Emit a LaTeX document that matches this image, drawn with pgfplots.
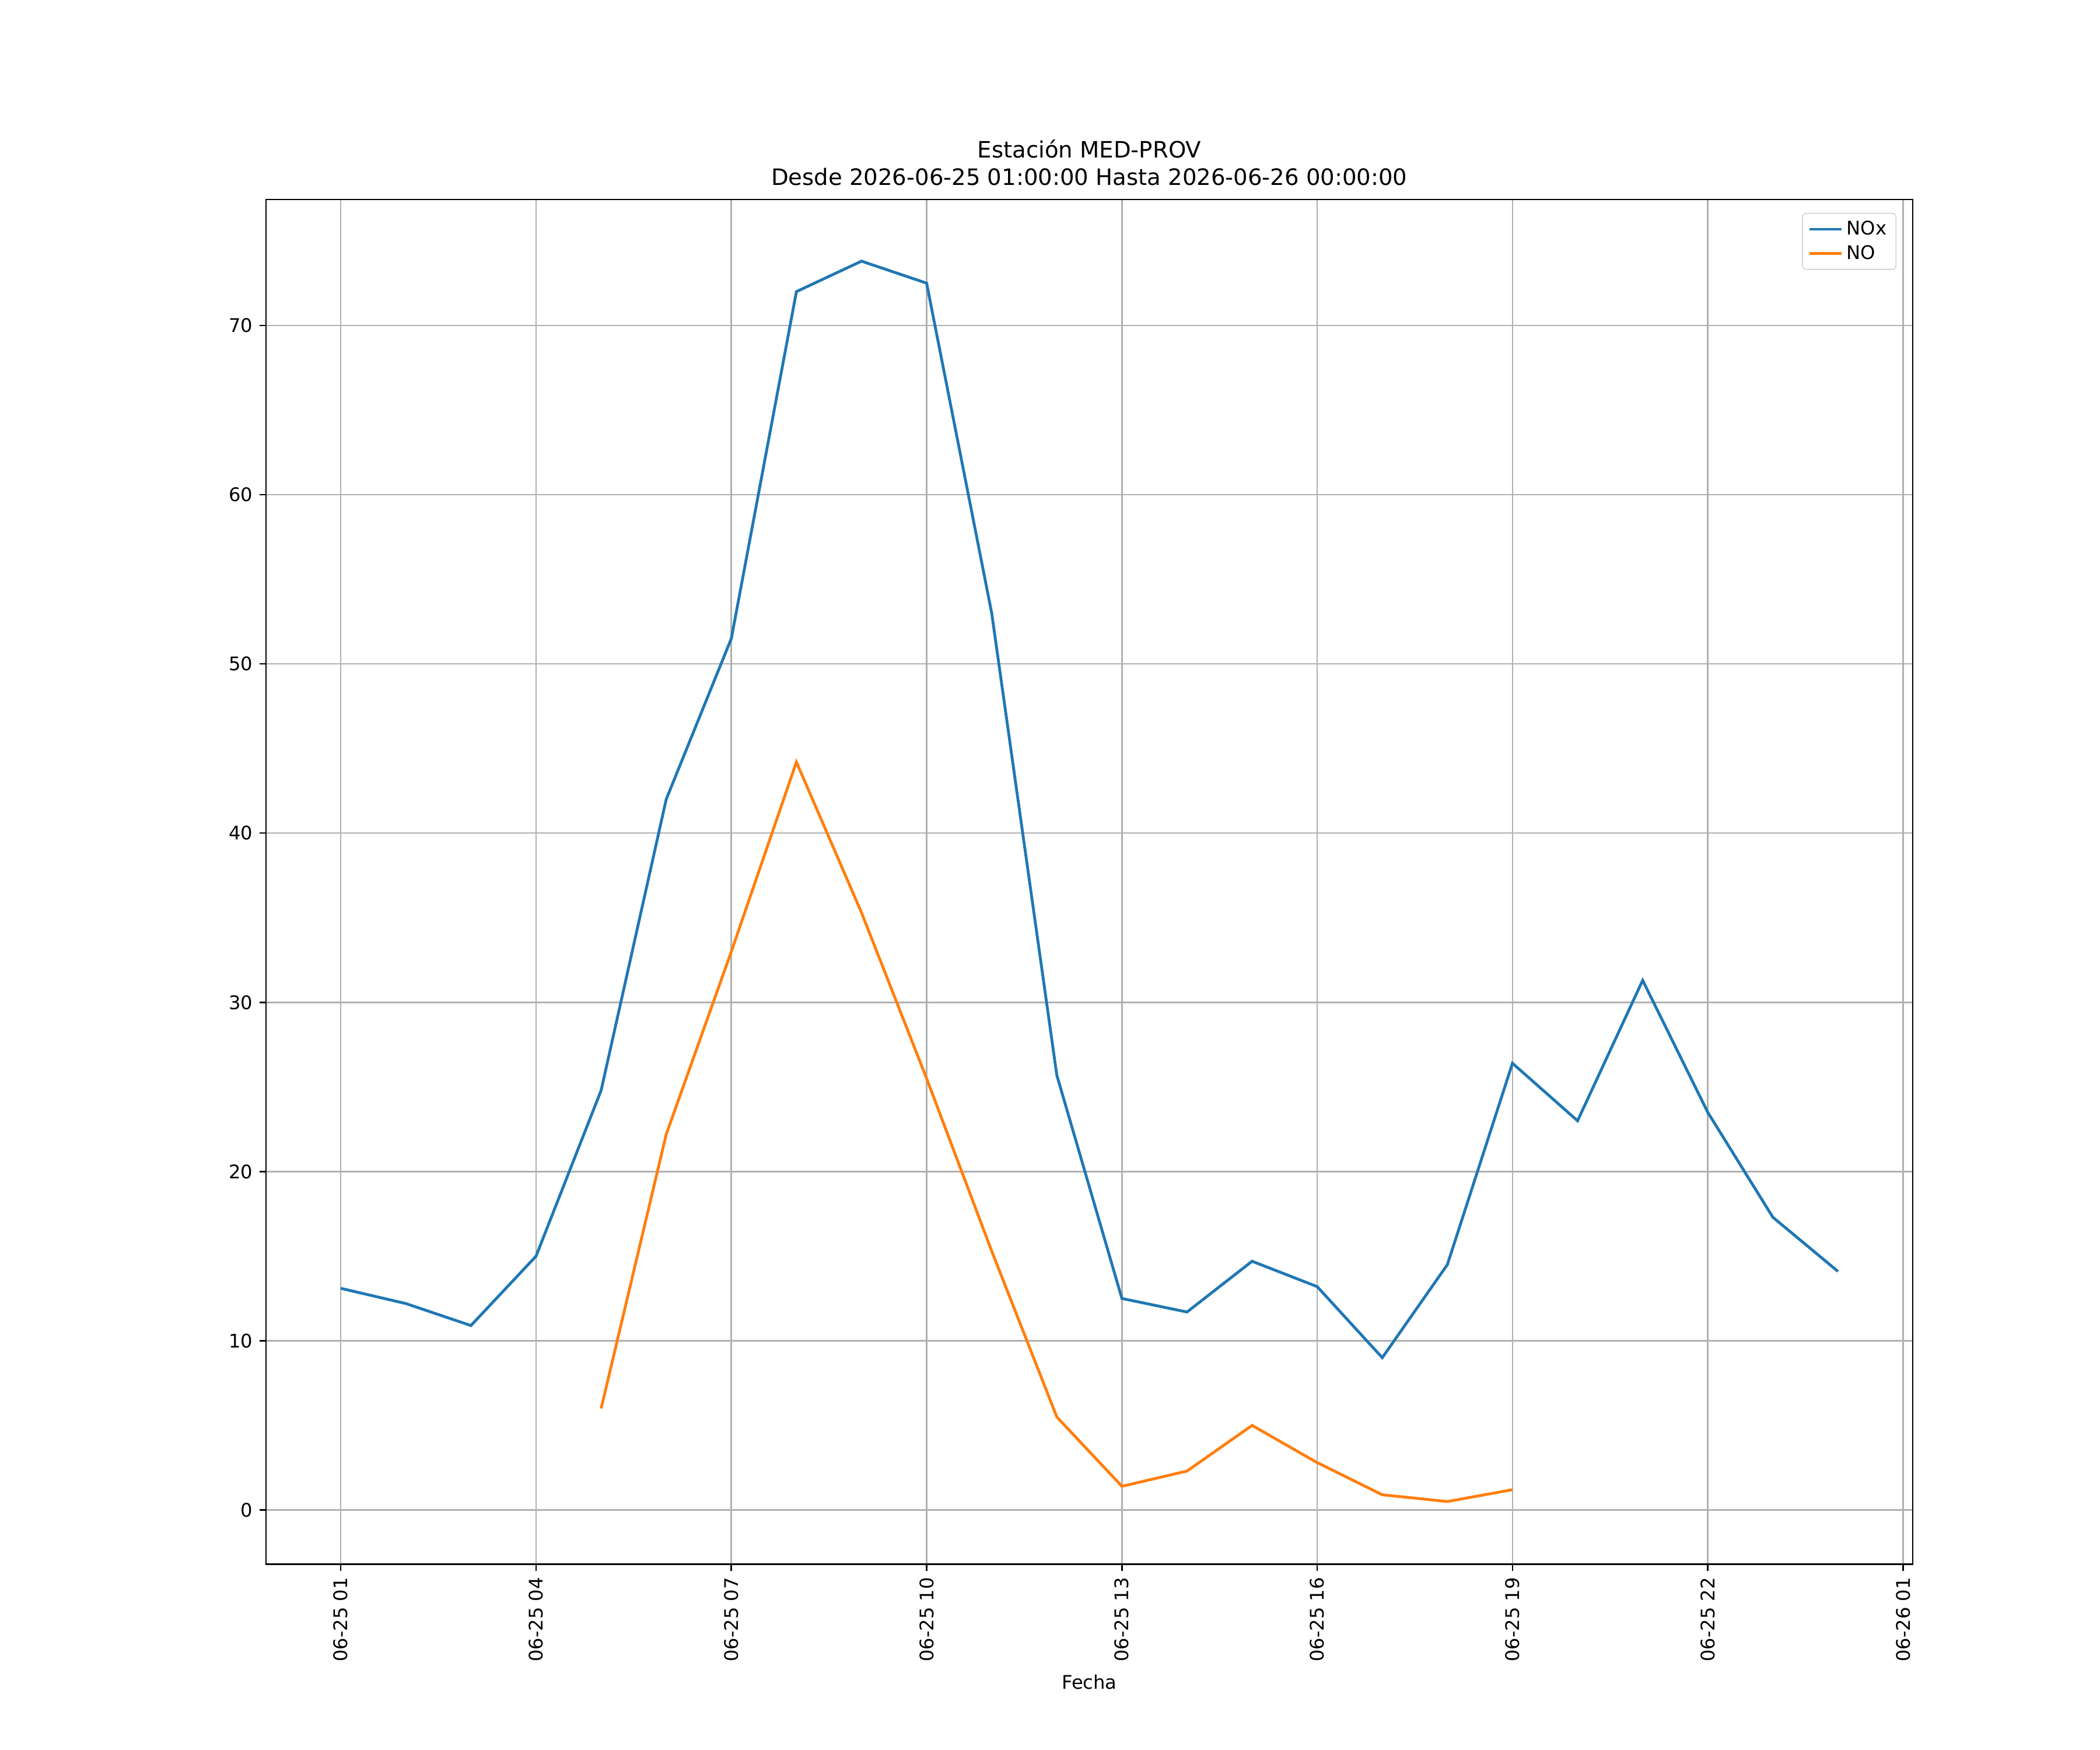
\documentclass[border=0pt]{standalone}
\usepackage{pgfplots}
\pgfplotsset{compat=1.18}
\usepackage{fontspec}
\setmainfont{DejaVu Sans}
\definecolor{mblue}{HTML}{1F77B4}
\definecolor{morange}{HTML}{FF7F0E}
\begin{document}
\begin{tikzpicture}
\path[use as bounding box] (0,0) rectangle (15.48in,12.9in);
\begin{axis}[at={(1.96in,1.37in)},anchor=south west,scale only axis,
 width=12.14in,height=10.06in,
 xmin=-0.15,xmax=25.15,ymin=-3.2,ymax=77.45,
 xtick={1,4,7,10,13,16,19,22,25},
 xticklabels={06-25 01,06-25 04,06-25 07,06-25 10,06-25 13,06-25 16,06-25 19,06-25 22,06-26 01},
 xticklabel style={rotate=90,anchor=east},
 ytick={0,10,...,70},
 xtick pos=bottom,ytick pos=left,
 /pgf/number format/assume math mode=true,
 tick align=outside,major tick length=3.5pt,
 tick style={black,line width=0.8pt},
 axis line style={line width=0.8pt},
 grid=major,grid style={color=black!31,line width=0.8pt},
 xlabel={Fecha},
 title style={align=center,font=\fontsize{12}{14.4}\selectfont,yshift=-2pt},
 title={Estación MED-PROV\\Desde 2026-06-25 01:00:00 Hasta 2026-06-26 00:00:00},
 legend style={at={(0.99,0.99)},anchor=north east,draw=black!20,rounded corners=2pt,font=\normalsize,legend cell align=left},
 every axis plot/.append style={line width=1.5pt}]
\addplot[mblue] coordinates {(1,13.1)(2,12.2)(3,10.9)(4,15.0)(5,24.8)(6,42.0)(7,51.5)(8,72.0)(9,73.8)(10,72.5)(11,53.0)(12,25.7)(13,12.5)(14,11.7)(15,14.7)(16,13.2)(17,9.0)(18,14.5)(19,26.4)(20,23.0)(21,31.3)(22,23.5)(23,17.3)(24,14.1)};
\addlegendentry{NOx}
\addplot[morange] coordinates {(5,6.0)(6,22.2)(7,33.0)(8,44.2)(9,35.3)(10,25.5)(11,15.3)(12,5.5)(13,1.4)(14,2.3)(15,5.0)(16,2.8)(17,0.9)(18,0.5)(19,1.2)};
\addlegendentry{NO}
\end{axis}
\end{tikzpicture}
\end{document}
